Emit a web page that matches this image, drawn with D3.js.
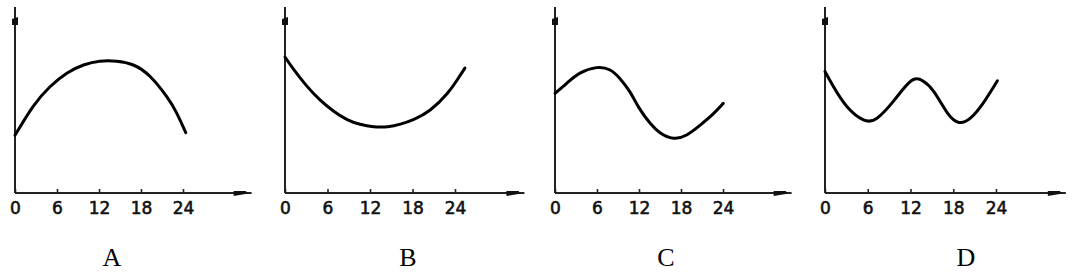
<!DOCTYPE html>
<html><head><meta charset="utf-8">
<script src="https://cdn.jsdelivr.net/npm/d3@7"></script>
<style>body{margin:0;background:#fff}svg{display:block}</style>
</head><body>
<script>
// ---- data ----
const hourTicks = [0, 6, 12, 18, 24];
const panelNames = ["A", "B", "C", "D"];
const tA = [0, 2.6, 5, 7.4, 9.8, 12.1, 14.5, 16.9, 19.3, 21.7, 23.1, 24.4];
const vA = [6.8, 10.2, 12.5, 14.1, 15.06, 15.5, 15.5, 15.06, 13.7, 11.3, 9.4, 7.1];
const tB = [0, 1.17, 3.06, 4.94, 6.83, 8.71, 10.6, 12.5, 14.5, 16.3, 18.2, 20.5, 22.9, 24.3, 25.4];
const vB = [16.0, 14.6, 12.6, 10.95, 9.65, 8.67, 8.08, 7.8, 7.8, 8.1, 8.67, 9.76, 11.7, 13.3, 14.7];
const tC = [0, 1.67, 3.57, 5.96, 7.86, 9.29, 10.7, 12.1, 13.6, 15.0, 16.9, 18.8, 20.7, 22.6, 24.05];
const vC = [11.73, 12.9, 14.1, 14.75, 14.47, 13.45, 11.9, 9.9, 8.2, 7.1, 6.45, 6.82, 7.95, 9.3, 10.55];
const tD = [0, 1.2, 3.1, 5.4, 7.3, 9.7, 12.1, 13.7, 15.3, 17.2, 18.8, 20.4, 22.3, 24.2];
const vD = [14.3, 12.5, 10.15, 8.6, 8.8, 10.9, 13.2, 13.2, 11.9, 9.4, 8.3, 8.8, 10.7, 13.2];
const seriesT = [tA, tB, tC, tD];
const seriesV = [vA, vB, vC, vD];

// ---- layout ----
const W = 1077, H = 273;
const origins = [15, 285, 555, 825];
const ends24 = [183, 455, 723, 996];
const labelX = [112, 408, 666, 966];
const axisY = 193;

const svg = d3.select("body").append("svg").attr("width", W).attr("height", H);
const y = d3.scaleLinear().domain([0, 20]).range([axisY, axisY - 170]);

panelNames.forEach((name, i) => {
  const x = d3.scaleLinear().domain([0, 24]).range([origins[i], ends24[i]]);
  const g = svg.append("g");
  const xEnd = x(33.8);
  const yTop = 7;
  g.append("line").attr("x1", x(0)).attr("x2", xEnd).attr("y1", axisY).attr("y2", axisY)
    .attr("stroke", "#222").attr("stroke-width", 2);
  g.append("line").attr("x1", x(0)).attr("x2", x(0)).attr("y1", axisY).attr("y2", yTop)
    .attr("stroke", "#222").attr("stroke-width", 2);
  const ax = x(0);
  g.append("path").attr("d", `M${ax-3},${19} L${ax+3},${17} L${ax+3},${25} L${ax-3},${25} Z`).attr("fill", "#111");
  g.append("path").attr("d", `M${xEnd-18},${191} L${xEnd-6},${191} L${xEnd-4},${193} L${xEnd-6},${194} L${xEnd-18},${196} Z`).attr("fill", "#111");
  const axis = d3.axisBottom(x).tickValues(hourTicks).tickSize(-4).tickSizeOuter(0).tickPadding(9)
    .tickFormat(d => d);
  const ag = g.append("g").attr("transform", `translate(0,${axisY})`).call(axis);
  ag.attr("font-size", null).attr("font-family", null);
  ag.select(".domain").remove();
  ag.selectAll(".tick line").attr("stroke", "#222").attr("stroke-width", 1.6);
  ag.selectAll(".tick text")
    .style("font-family", "'DejaVu Sans', sans-serif")
    .style("font-size", "17px").attr("fill", "#111").attr("stroke", "#111").attr("stroke-width", 0.6);
  const pts = seriesT[i].map((t, k) => [t, seriesV[i][k]]);
  const line = d3.line().x(d => x(d[0])).y(d => y(d[1])).curve(d3.curveNatural);
  g.append("path").datum(pts).attr("d", line).attr("fill", "none")
    .attr("stroke", "#000").attr("stroke-width", 3).attr("stroke-linecap", "round");
  g.append("text").attr("x", labelX[i]).attr("y", 266).attr("text-anchor", "middle")
    .style("font-family", "'Liberation Serif', 'Times New Roman', serif").style("font-size", "26px")
    .attr("fill", "#000").text(name);
});
</script>
</body></html>
